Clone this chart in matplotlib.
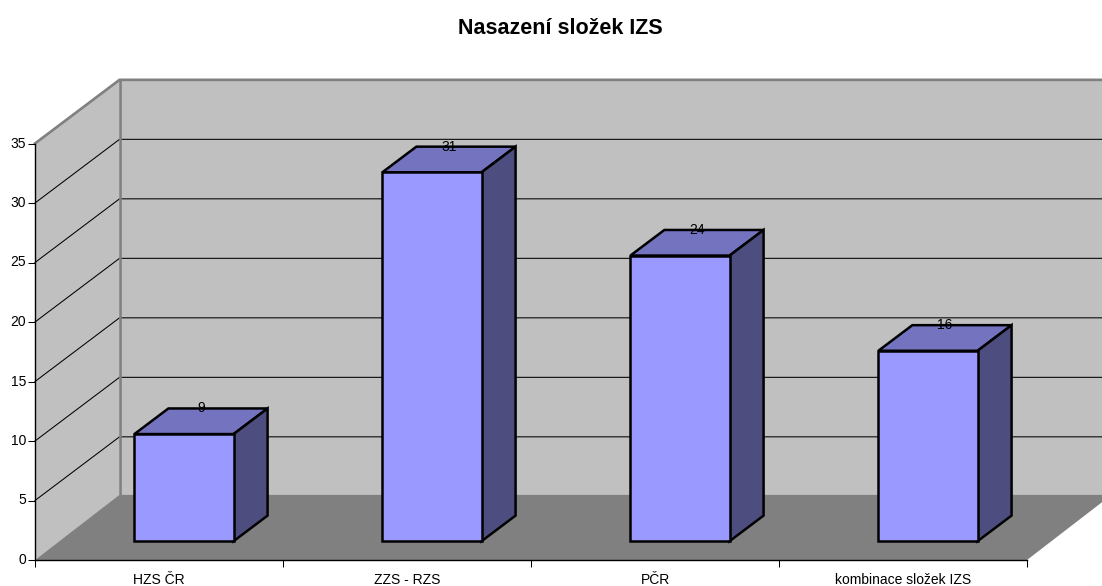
import matplotlib
matplotlib.use('Agg')
import matplotlib.pyplot as plt
from matplotlib.patches import Polygon

# data
kategorie = ['HZS ČR', 'ZZS - RZS', 'PČR', 'kombinace složek IZS']
hodnoty = [9, 31, 24, 16]
y_ticks = [0, 5, 10, 15, 20, 25, 30, 35]
titel = 'Nasazení složek IZS'

plt.rcParams['font.family'] = ['Liberation Sans', 'DejaVu Sans']

W, H = 1102, 586
fig = plt.figure(figsize=(W / 100, H / 100), dpi=100, facecolor='white')
# front plane of the fake 3D box, everything else is projected from here
ax = fig.add_axes([35 / W, (H - 560) / H, 992 / W, 416.5 / H])
ax.set_xlim(0, len(kategorie))
ax.set_ylim(0, 35)
ax.patch.set_visible(False)

# depth of the box in data units
DX = 84.5 / 248
DY = 5.35


def proj(x, y, z):
    return (x + z * DX, y + z * DY)


def poly(punkte, farbe, z, edge='none', lw=0):
    ax.add_patch(Polygon([proj(*p) for p in punkte], closed=True, facecolor=farbe, edgecolor=edge,
                         linewidth=lw, zorder=z, clip_on=False, joinstyle='miter'))


n = len(kategorie)
top = y_ticks[-1]
boden = 0.12  # Boden hinten etwas höher

# Wände und Boden
poly([(0, 0, 1), (n, 0, 1), (n, top, 1), (0, top, 1)], '#C0C0C0', 1)
poly([(0, 0, 0), (0, 0, 1), (0, top, 1), (0, top, 0)], '#C0C0C0', 1)
poly([(0, 0, 0), (n, 0, 0), (n, boden, 1), (0, boden, 1)], '#808080', 1.4)

# Gitter
for v in y_ticks[1:-1]:
    xs, ys = zip(proj(0, v, 0), proj(0, v, 1), proj(n, v, 1))
    ax.plot(xs, ys, color='black', linewidth=0.75, zorder=1.1, clip_on=False)

# graue Kanten
xs, ys = zip(proj(0, top, 0), proj(0, top, 1), proj(n, top, 1))
ax.plot(xs, ys, color='#808080', linewidth=1.9, zorder=1.3, clip_on=False, solid_joinstyle='miter')
xs, ys = zip(proj(0, boden, 1), proj(0, top, 1))
ax.plot(xs, ys, color='#808080', linewidth=1.9, zorder=1.3, clip_on=False)

# Balken
breite = 0.4
z1, z2 = 0.296, 0.698
for i, wert in enumerate(hodnoty):
    l = i + 0.5 - breite / 2
    r = i + 0.5 + breite / 2
    poly([(l, wert, z1), (r, wert, z1), (r, wert, z2), (l, wert, z2)], '#7373BF', 3, 'black', 1.8)
    poly([(r, 0, z1), (r, 0, z2), (r, wert, z2), (r, wert, z1)], '#4D4D80', 3, 'black', 1.8)
    poly([(l, 0, z1), (r, 0, z1), (r, wert, z1), (l, wert, z1)], '#9999FF', 3.1, 'black', 1.8)
    px = proj(i + 0.5, wert, (z1 + z2) / 2)[0]
    py = proj(i + 0.5, wert, z2)[1]
    ax.text(px, py, str(wert), ha='center', va='center', fontsize=10, color='black', zorder=5, clip_on=False)

# Achsen
for s in ['top', 'right']:
    ax.spines[s].set_visible(False)
for s in ['left', 'bottom']:
    ax.spines[s].set_linewidth(1.0)
    ax.spines[s].set_zorder(2)
ax.set_yticks(y_ticks)
ax.set_xticks(range(n + 1))
ax.set_xticklabels([])
ax.set_xticks([i + 0.5 for i in range(n)], minor=True)
ax.set_xticklabels(kategorie, minor=True, fontsize=10)
ax.tick_params(axis='x', which='minor', length=0, pad=9)
ax.tick_params(axis='x', which='major', length=5, width=0.75)
ax.tick_params(axis='y', length=5, width=0.75, labelsize=10, pad=1.5)
for t in ax.get_yticklabels():
    t.set_y(t.get_position()[1])
    t.set_verticalalignment('center')

fig.text(560 / W, 1 - 28.5 / H, titel, ha='center', va='center', fontsize=15.5, fontweight='bold')

fig.savefig('out.png', dpi=100)
